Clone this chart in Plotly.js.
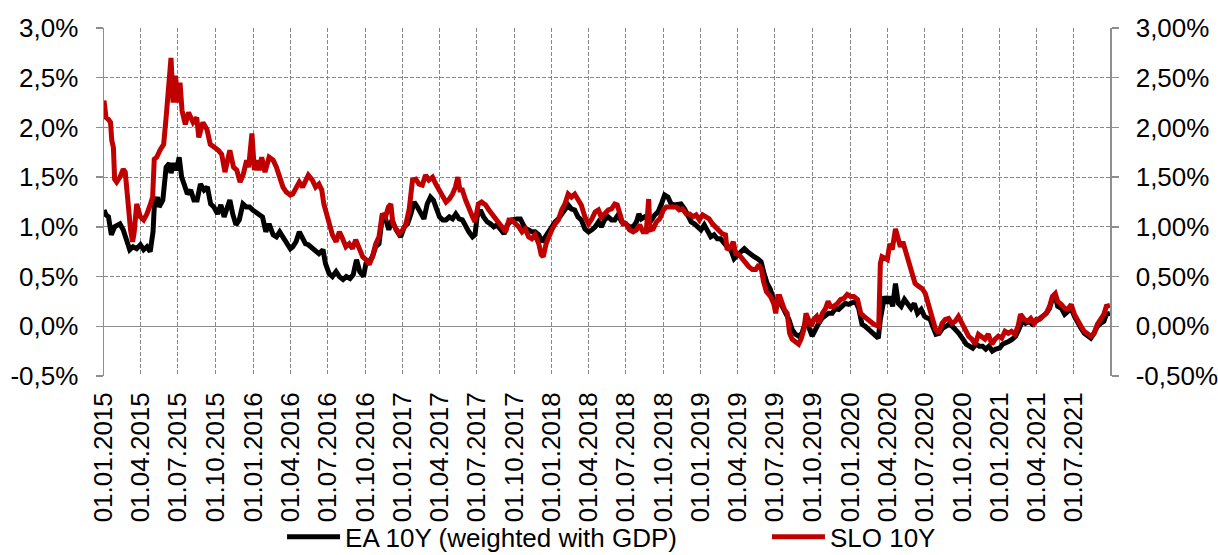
<!DOCTYPE html>
<html>
<head>
<meta charset="utf-8">
<script src="https://cdn.plot.ly/plotly-3.0.1.min.js"></script>
<style>
html,body{margin:0;padding:0;background:#fff;}
#chart{width:1218px;height:555px;}
</style>
</head>
<body>
<div id="chart"></div>
<script>
// ---- Data (values in %) ----
const eaDates = ['2015-01-01','2015-01-06','2015-01-12','2015-01-19','2015-01-27','2015-02-09','2015-02-17','2015-02-25','2015-03-05','2015-03-13','2015-03-22','2015-03-31','2015-04-08','2015-04-16','2015-04-24','2015-05-01','2015-05-04','2015-05-12','2015-05-16','2015-05-25','2015-06-02','2015-06-10','2015-06-14','2015-06-21','2015-06-27','2015-07-04','2015-07-10','2015-07-16','2015-07-24','2015-08-01','2015-08-09','2015-08-17','2015-08-25','2015-09-03','2015-09-11','2015-09-19','2015-09-27','2015-10-06','2015-10-14','2015-10-22','2015-10-31','2015-11-05','2015-11-12','2015-11-20','2015-11-28','2015-12-07','2015-12-15','2015-12-23','2015-12-31','2016-01-08','2016-01-16','2016-01-24','2016-02-01','2016-02-09','2016-02-19','2016-02-27','2016-03-06','2016-03-14','2016-03-22','2016-04-01','2016-04-07','2016-04-15','2016-04-23','2016-04-30','2016-05-08','2016-05-15','2016-05-25','2016-06-02','2016-06-10','2016-06-20','2016-06-26','2016-07-05','2016-07-13','2016-07-22','2016-07-30','2016-08-08','2016-08-16','2016-08-25','2016-09-02','2016-09-10','2016-09-18','2016-09-27','2016-10-03','2016-10-11','2016-10-19','2016-10-27','2016-11-04','2016-11-12','2016-11-20','2016-11-28','2016-12-06','2016-12-16','2016-12-27','2017-01-05','2017-01-13','2017-01-21','2017-01-29','2017-02-06','2017-02-14','2017-02-22','2017-03-02','2017-03-10','2017-03-17','2017-03-23','2017-04-01','2017-04-09','2017-04-17','2017-04-25','2017-05-03','2017-05-11','2017-05-19','2017-05-27','2017-06-04','2017-06-12','2017-06-21','2017-06-27','2017-07-02','2017-07-10','2017-07-18','2017-07-27','2017-08-04','2017-08-12','2017-08-20','2017-08-28','2017-09-06','2017-09-14','2017-09-26','2017-10-08','2017-10-16','2017-10-22','2017-10-28','2017-11-05','2017-11-13','2017-11-21','2017-11-30','2017-12-08','2017-12-16','2017-12-24','2018-01-01','2018-01-09','2018-01-17','2018-01-25','2018-02-02','2018-02-10','2018-02-18','2018-02-26','2018-03-06','2018-03-14','2018-03-23','2018-04-01','2018-04-09','2018-04-17','2018-04-25','2018-05-02','2018-05-10','2018-05-19','2018-05-27','2018-06-04','2018-06-12','2018-06-21','2018-07-01','2018-07-10','2018-07-19','2018-07-27','2018-08-02','2018-08-08','2018-08-16','2018-08-24','2018-09-02','2018-09-10','2018-09-18','2018-09-26','2018-10-04','2018-10-12','2018-10-20','2018-10-28','2018-11-05','2018-11-13','2018-11-22','2018-11-30','2018-12-08','2018-12-16','2018-12-24','2019-01-01','2019-01-09','2019-01-17','2019-01-25','2019-02-02','2019-02-10','2019-02-18','2019-02-26','2019-03-06','2019-03-15','2019-03-23','2019-04-01','2019-04-09','2019-04-17','2019-04-25','2019-05-03','2019-05-11','2019-05-19','2019-05-28','2019-06-05','2019-06-12','2019-06-20','2019-06-28','2019-07-04','2019-07-10','2019-07-19','2019-07-27','2019-08-04','2019-08-12','2019-08-20','2019-08-28','2019-09-05','2019-09-13','2019-09-21','2019-09-30','2019-10-08','2019-10-16','2019-10-24','2019-11-01','2019-11-09','2019-11-18','2019-11-26','2019-12-04','2019-12-12','2019-12-20','2019-12-28','2020-01-05','2020-01-14','2020-01-22','2020-01-30','2020-02-07','2020-02-15','2020-02-24','2020-03-03','2020-03-10','2020-03-15','2020-03-20','2020-03-25','2020-04-01','2020-04-07','2020-04-14','2020-04-21','2020-04-28','2020-05-05','2020-05-13','2020-05-21','2020-05-29','2020-06-06','2020-06-14','2020-06-23','2020-07-01','2020-07-09','2020-07-14','2020-07-21','2020-07-29','2020-08-06','2020-08-14','2020-08-22','2020-08-30','2020-09-07','2020-09-15','2020-09-23','2020-10-03','2020-10-11','2020-10-19','2020-10-27','2020-11-04','2020-11-12','2020-11-20','2020-11-28','2020-12-06','2020-12-14','2020-12-22','2021-01-01','2021-01-08','2021-01-16','2021-01-24','2021-02-01','2021-02-09','2021-02-17','2021-02-25','2021-03-05','2021-03-14','2021-03-22','2021-04-01','2021-04-09','2021-04-17','2021-04-25','2021-05-03','2021-05-10','2021-05-17','2021-05-23','2021-06-01','2021-06-09','2021-06-17','2021-06-25','2021-07-03','2021-07-11','2021-07-19','2021-07-27','2021-08-04','2021-08-12','2021-08-20','2021-08-28','2021-09-05','2021-09-13','2021-09-19','2021-09-28'];
const eaValues = [1.17,1.12,1.10,0.92,1.00,1.03,0.97,0.85,0.77,0.80,0.78,0.82,0.77,0.80,0.75,0.95,1.20,1.30,1.20,1.27,1.60,1.64,1.54,1.64,1.57,1.70,1.50,1.43,1.33,1.37,1.27,1.27,1.43,1.37,1.40,1.23,1.20,1.13,1.22,1.10,1.20,1.27,1.13,1.02,1.07,1.23,1.20,1.20,1.17,1.15,1.13,1.10,0.95,1.03,0.92,0.90,0.95,0.90,0.85,0.78,0.80,0.85,0.95,0.88,0.83,0.82,0.78,0.75,0.73,0.77,0.63,0.53,0.50,0.55,0.50,0.47,0.50,0.48,0.52,0.67,0.55,0.50,0.63,0.65,0.70,0.80,0.83,1.10,1.08,0.97,1.07,0.97,0.90,1.00,1.03,1.13,1.25,1.20,1.13,1.08,1.23,1.30,1.27,1.20,1.10,1.07,1.07,1.10,1.08,1.13,1.08,1.07,1.00,0.95,0.90,0.92,1.10,1.17,1.10,1.05,1.03,1.00,1.02,0.97,0.93,1.02,1.07,1.08,1.08,1.03,0.98,0.97,0.95,0.95,0.92,0.85,0.90,0.97,1.02,1.05,1.08,1.13,1.17,1.22,1.18,1.17,1.10,1.07,0.98,0.95,0.97,1.00,1.05,1.00,1.07,1.10,1.07,1.07,1.12,1.05,1.03,1.00,1.00,1.05,1.13,1.08,1.10,1.08,1.07,1.12,1.15,1.23,1.32,1.30,1.23,1.22,1.22,1.23,1.18,1.10,1.05,1.03,1.00,0.97,1.02,0.95,0.90,0.92,0.88,0.88,0.83,0.80,0.77,0.68,0.72,0.75,0.78,0.75,0.72,0.70,0.68,0.65,0.52,0.43,0.37,0.27,0.18,0.27,0.20,0.13,0.07,-0.03,-0.08,-0.10,-0.07,0.03,0.00,-0.10,-0.03,0.03,0.08,0.10,0.13,0.13,0.18,0.17,0.20,0.23,0.22,0.23,0.25,0.18,0.02,0.00,-0.03,-0.05,-0.08,-0.12,0.07,0.20,0.30,0.23,0.30,0.20,0.43,0.23,0.20,0.27,0.22,0.18,0.23,0.13,0.17,0.10,0.08,0.08,0.00,-0.08,-0.07,-0.02,0.00,0.02,0.00,-0.03,-0.07,-0.13,-0.18,-0.20,-0.22,-0.18,-0.20,-0.20,-0.23,-0.20,-0.25,-0.23,-0.22,-0.18,-0.17,-0.15,-0.13,-0.10,-0.03,0.05,0.03,0.05,0.02,0.05,0.07,0.10,0.13,0.18,0.28,0.30,0.20,0.18,0.12,0.15,0.18,0.10,0.03,-0.02,-0.07,-0.10,-0.12,-0.07,0.00,0.03,0.05,0.12,0.13];

const sloDates = ['2015-01-01','2015-01-06','2015-01-12','2015-01-17','2015-01-20','2015-01-24','2015-01-27','2015-02-01','2015-02-09','2015-02-17','2015-02-22','2015-03-01','2015-03-07','2015-03-12','2015-03-16','2015-03-22','2015-03-31','2015-04-08','2015-04-16','2015-04-24','2015-04-30','2015-05-04','2015-05-10','2015-05-18','2015-05-27','2015-06-02','2015-06-08','2015-06-14','2015-06-19','2015-06-25','2015-07-01','2015-07-06','2015-07-11','2015-07-19','2015-07-27','2015-08-07','2015-08-16','2015-08-21','2015-08-31','2015-09-10','2015-09-18','2015-09-30','2015-10-08','2015-10-16','2015-10-24','2015-11-05','2015-11-14','2015-11-22','2015-11-30','2015-12-08','2015-12-16','2015-12-21','2015-12-29','2016-01-04','2016-01-10','2016-01-16','2016-01-22','2016-01-30','2016-02-09','2016-02-19','2016-02-27','2016-03-06','2016-03-14','2016-03-22','2016-04-01','2016-04-07','2016-04-15','2016-04-23','2016-05-01','2016-05-09','2016-05-15','2016-05-25','2016-06-02','2016-06-10','2016-06-17','2016-06-22','2016-06-28','2016-07-05','2016-07-13','2016-07-22','2016-07-30','2016-08-05','2016-08-15','2016-08-23','2016-08-31','2016-09-08','2016-09-15','2016-09-25','2016-10-03','2016-10-11','2016-10-19','2016-10-27','2016-11-04','2016-11-12','2016-11-20','2016-11-27','2016-12-03','2016-12-08','2016-12-16','2016-12-23','2017-01-01','2017-01-09','2017-01-17','2017-01-25','2017-02-02','2017-02-10','2017-02-18','2017-02-26','2017-03-06','2017-03-15','2017-03-23','2017-04-01','2017-04-09','2017-04-17','2017-04-25','2017-05-03','2017-05-10','2017-05-16','2017-05-21','2017-05-27','2017-06-04','2017-06-12','2017-06-21','2017-06-27','2017-07-05','2017-07-13','2017-07-23','2017-07-31','2017-08-08','2017-08-16','2017-08-24','2017-09-02','2017-09-10','2017-09-18','2017-09-26','2017-10-04','2017-10-12','2017-10-20','2017-10-28','2017-11-05','2017-11-13','2017-11-21','2017-11-30','2017-12-06','2017-12-11','2017-12-18','2017-12-24','2018-01-01','2018-01-09','2018-01-17','2018-01-25','2018-02-02','2018-02-10','2018-02-18','2018-02-26','2018-03-06','2018-03-14','2018-03-23','2018-04-01','2018-04-09','2018-04-17','2018-04-25','2018-05-02','2018-05-10','2018-05-19','2018-05-27','2018-06-04','2018-06-10','2018-06-17','2018-06-24','2018-07-01','2018-07-10','2018-07-19','2018-07-27','2018-08-04','2018-08-12','2018-08-20','2018-08-26','2018-08-29','2018-09-06','2018-09-14','2018-09-22','2018-10-01','2018-10-08','2018-10-16','2018-10-24','2018-11-01','2018-11-09','2018-11-17','2018-11-26','2018-12-04','2018-12-12','2018-12-20','2018-12-28','2019-01-05','2019-01-13','2019-01-21','2019-01-29','2019-02-06','2019-02-14','2019-02-22','2019-03-02','2019-03-06','2019-03-15','2019-03-21','2019-03-27','2019-04-04','2019-04-12','2019-04-20','2019-04-28','2019-05-07','2019-05-15','2019-05-23','2019-05-29','2019-06-03','2019-06-10','2019-06-20','2019-06-28','2019-07-03','2019-07-08','2019-07-13','2019-07-19','2019-07-24','2019-07-31','2019-08-06','2019-08-12','2019-08-20','2019-08-28','2019-09-03','2019-09-10','2019-09-15','2019-09-22','2019-09-28','2019-10-04','2019-10-11','2019-10-17','2019-10-25','2019-11-02','2019-11-08','2019-11-14','2019-11-22','2019-12-01','2019-12-09','2019-12-17','2019-12-25','2020-01-02','2020-01-10','2020-01-19','2020-01-27','2020-02-04','2020-02-12','2020-02-20','2020-02-28','2020-03-11','2020-03-15','2020-03-19','2020-03-25','2020-04-01','2020-04-07','2020-04-13','2020-04-21','2020-04-26','2020-05-03','2020-05-09','2020-05-15','2020-05-23','2020-05-31','2020-06-08','2020-06-17','2020-06-25','2020-07-03','2020-07-11','2020-07-20','2020-07-28','2020-08-05','2020-08-13','2020-08-21','2020-08-29','2020-09-06','2020-09-14','2020-09-22','2020-10-01','2020-10-09','2020-10-17','2020-10-25','2020-11-02','2020-11-10','2020-11-18','2020-11-26','2020-12-04','2020-12-13','2020-12-21','2020-12-29','2021-01-06','2021-01-14','2021-01-22','2021-01-30','2021-02-07','2021-02-15','2021-02-21','2021-03-02','2021-03-10','2021-03-18','2021-03-26','2021-04-01','2021-04-09','2021-04-17','2021-04-25','2021-05-03','2021-05-10','2021-05-17','2021-05-23','2021-06-01','2021-06-09','2021-06-17','2021-06-25','2021-07-03','2021-07-11','2021-07-19','2021-07-27','2021-08-04','2021-08-12','2021-08-20','2021-08-28','2021-09-05','2021-09-13','2021-09-19','2021-09-28'];
const sloValues = [2.27,2.10,2.08,2.05,1.87,1.80,1.48,1.45,1.50,1.58,1.55,1.20,0.97,0.85,0.95,1.23,1.10,1.07,1.13,1.22,1.30,1.68,1.70,1.77,1.83,2.10,2.37,2.70,2.25,2.52,2.25,2.45,2.17,2.03,2.15,2.05,2.10,1.90,2.05,1.98,1.83,1.80,1.77,1.73,1.55,1.77,1.60,1.57,1.45,1.53,1.67,1.60,1.94,1.57,1.67,1.57,1.70,1.55,1.70,1.67,1.60,1.50,1.40,1.35,1.32,1.33,1.40,1.45,1.40,1.48,1.52,1.47,1.40,1.43,1.37,1.23,1.13,1.03,0.92,0.85,0.95,0.90,0.80,0.83,0.78,0.87,0.80,0.70,0.67,0.62,0.70,0.83,0.90,1.13,1.10,1.20,1.23,1.03,0.98,0.93,0.97,1.03,1.18,1.47,1.48,1.43,1.42,1.52,1.47,1.50,1.43,1.37,1.30,1.25,1.28,1.33,1.40,1.50,1.37,1.37,1.27,1.18,1.10,1.05,1.23,1.25,1.22,1.17,1.13,1.08,1.05,1.00,0.95,1.07,1.07,1.03,1.00,0.95,0.98,0.90,0.88,0.92,0.83,0.72,0.70,0.83,0.90,0.97,1.03,1.07,1.17,1.23,1.33,1.30,1.33,1.27,1.22,1.10,1.03,1.08,1.15,1.17,1.10,1.13,1.17,1.18,1.23,1.22,1.10,1.03,1.03,0.97,0.95,0.97,1.02,0.95,0.95,1.28,0.97,0.98,1.05,1.08,1.17,1.20,1.20,1.20,1.20,1.17,1.18,1.13,1.13,1.10,1.12,1.07,1.12,1.10,1.08,1.03,1.00,0.97,0.93,0.92,0.77,0.80,0.85,0.73,0.72,0.68,0.63,0.60,0.57,0.57,0.62,0.57,0.45,0.35,0.30,0.23,0.13,0.30,0.30,0.23,0.17,0.13,-0.07,-0.13,-0.15,-0.18,-0.13,-0.03,0.13,0.07,0.00,0.07,0.10,0.03,0.13,0.18,0.25,0.20,0.20,0.23,0.27,0.28,0.32,0.30,0.30,0.27,0.13,0.10,0.07,0.05,0.02,0.00,0.63,0.70,0.68,0.67,0.83,0.77,0.98,0.90,0.80,0.85,0.77,0.67,0.57,0.43,0.40,0.38,0.33,0.20,0.10,-0.03,-0.07,0.03,0.07,0.08,0.03,0.05,0.10,0.03,-0.05,-0.10,-0.13,-0.18,-0.08,-0.10,-0.13,-0.08,-0.18,-0.13,-0.10,-0.12,-0.05,-0.07,-0.05,-0.08,0.00,0.12,0.07,0.05,0.08,0.03,0.07,0.07,0.10,0.13,0.20,0.30,0.33,0.25,0.22,0.18,0.17,0.22,0.12,0.05,0.00,-0.05,-0.08,-0.10,-0.07,0.02,0.07,0.12,0.20,0.21];

const seriesNames = ['EA 10Y (weighted with GDP)', 'SLO 10Y'];

const xTickDates = ['2015-01-01','2015-04-01','2015-07-01','2015-10-01','2016-01-01','2016-04-01','2016-07-01','2016-10-01','2017-01-01','2017-04-01','2017-07-01','2017-10-01','2018-01-01','2018-04-01','2018-07-01','2018-10-01','2019-01-01','2019-04-01','2019-07-01','2019-10-01','2020-01-01','2020-04-01','2020-07-01','2020-10-01','2021-01-01','2021-04-01','2021-07-01'];
const xTickLabels = ['01.01.2015','01.04.2015','01.07.2015','01.10.2015','01.01.2016','01.04.2016','01.07.2016','01.10.2016','01.01.2017','01.04.2017','01.07.2017','01.10.2017','01.01.2018','01.04.2018','01.07.2018','01.10.2018','01.01.2019','01.04.2019','01.07.2019','01.10.2019','01.01.2020','01.04.2020','01.07.2020','01.10.2020','01.01.2021','01.04.2021','01.07.2021'];
const yTickValues = [-0.5,0,0.5,1,1.5,2,2.5,3];
const yTickLabelsLeft = ['-0,5%','0,0%','0,5%','1,0%','1,5%','2,0%','2,5%','3,0%'];
const yTickLabelsRight = ['-0,50%','0,00%','0,50%','1,00%','1,50%','2,00%','2,50%','3,00%'];

// ---- Styling ----
const FONT = 'Liberation Sans, Arial, sans-serif';
const FS = 26;
const GRID = '#888888';
const AXIS = '#8e8e8e';

const traces = [
  {x: eaDates, y: eaValues, name: seriesNames[0], type: 'scatter', mode: 'lines',
   line: {color: '#000000', width: 5}, legend: 'legend'},
  {x: sloDates, y: sloValues, name: seriesNames[1], type: 'scatter', mode: 'lines',
   line: {color: '#C00000', width: 5}, legend: 'legend2'},
  {x: [null], y: [null], yaxis: 'y2', showlegend: false, hoverinfo: 'skip', mode: 'lines'}
];

const yCommon = {
  range: [-0.5, 3.0], autorange: false, fixedrange: true,
  tickmode: 'array', tickvals: yTickValues,
  ticks: 'outside', ticklen: 7, tickwidth: 1.5, tickcolor: AXIS,
  showline: true, linecolor: AXIS, linewidth: 1.5,
  tickfont: {family: FONT, size: FS, color: '#000'},
  ticklabelstandoff: 12
};

const layout = {
  width: 1218, height: 555,
  margin: {l: 104, r: 108, t: 28, b: 179, autoexpand: false},
  paper_bgcolor: '#ffffff', plot_bgcolor: '#ffffff',
  font: {family: FONT, size: FS, color: '#000'},
  showlegend: true,
  xaxis: {
    type: 'date', range: ['2015-01-01', '2021-09-28'], autorange: false,
    tickmode: 'array', tickvals: xTickDates, ticktext: xTickLabels,
    tickangle: -90, ticks: '', showline: false, zeroline: false,
    showgrid: true, gridcolor: GRID, gridwidth: 1, griddash: '4px,2px',
    tickfont: {family: FONT, size: FS, color: '#000'},
    ticklabelstandoff: 10
  },
  yaxis: Object.assign({}, yCommon, {
    ticktext: yTickLabelsLeft, side: 'left',
    showgrid: true, gridcolor: GRID, gridwidth: 1, griddash: '4px,2px',
    zeroline: true, zerolinecolor: AXIS, zerolinewidth: 1.5
  }),
  yaxis2: Object.assign({}, yCommon, {
    ticktext: yTickLabelsRight, side: 'right', overlaying: 'y',
    showgrid: false, zeroline: false
  }),
  legend: {
    orientation: 'h', x: 0.177, xanchor: 'left', y: -0.462, yanchor: 'middle',
    font: {family: FONT, size: FS, color: '#000'}, itemwidth: 53,
    bgcolor: 'rgba(0,0,0,0)', borderwidth: 0
  },
  legend2: {
    orientation: 'h', x: 0.659, xanchor: 'left', y: -0.462, yanchor: 'middle',
    font: {family: FONT, size: FS, color: '#000'}, itemwidth: 53,
    bgcolor: 'rgba(0,0,0,0)', borderwidth: 0
  }
};

Plotly.newPlot('chart', traces, layout, {staticPlot: true, displayModeBar: false});
</script>
</body>
</html>
